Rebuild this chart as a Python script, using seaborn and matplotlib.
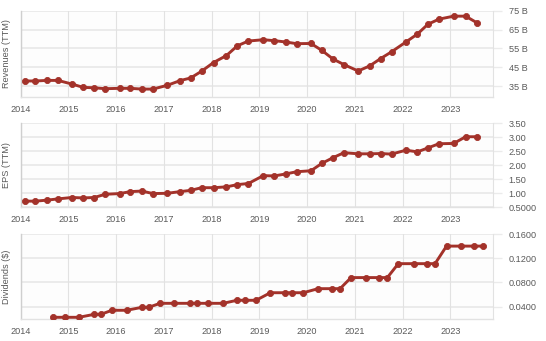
import matplotlib
matplotlib.use("Agg")
import matplotlib.pyplot as plt
import seaborn as sns
import pandas as pd

# Quarterly reporting dates (decimal years) for the trailing-twelve-month series
quarter_dates = [
    2014.08, 2014.31, 2014.55, 2014.78, 2015.07, 2015.31, 2015.54, 2015.77,
    2016.07, 2016.30, 2016.54, 2016.77, 2017.07, 2017.34, 2017.56, 2017.79,
    2018.04, 2018.31, 2018.54, 2018.77, 2019.08, 2019.31, 2019.55, 2019.78,
    2020.08, 2020.31, 2020.54, 2020.77, 2021.07, 2021.31, 2021.54, 2021.77,
    2022.07, 2022.31, 2022.53, 2022.76, 2023.07, 2023.32, 2023.55,
]
# Revenues, TTM, in billions
revenues_b = [
    37.7, 37.7, 38.0, 38.0, 36.1, 34.3, 34.1, 33.6,
    33.8, 33.8, 33.4, 33.4, 35.4, 37.9, 39.3, 42.9,
    47.5, 51.2, 56.4, 58.9, 59.6, 59.1, 58.4, 57.5,
    57.6, 53.9, 49.4, 46.4, 43.0, 45.7, 49.6, 53.2,
    58.4, 62.6, 67.8, 70.5, 72.1, 72.1, 68.7,
]
# Earnings per share, TTM
eps_ttm = [
    0.72, 0.72, 0.755, 0.80, 0.85, 0.835, 0.85, 0.965,
    0.99, 1.06, 1.08, 0.99, 1.00, 1.06, 1.105, 1.20,
    1.20, 1.23, 1.31, 1.35, 1.63, 1.62, 1.69, 1.77,
    1.805, 2.07, 2.27, 2.45, 2.41, 2.41, 2.42, 2.40,
    2.54, 2.48, 2.62, 2.77, 2.78, 3.02, 3.02,
]
# Dividend payment dates and amounts per share
dividend_dates = [
    2014.68, 2014.92, 2015.22, 2015.54, 2015.68, 2015.91, 2016.22, 2016.54,
    2016.68, 2016.92, 2017.22, 2017.55, 2017.70, 2017.93, 2018.24, 2018.53,
    2018.70, 2018.93, 2019.23, 2019.54, 2019.69, 2019.92, 2020.23, 2020.52,
    2020.69, 2020.92, 2021.23, 2021.51, 2021.68, 2021.91, 2022.23, 2022.51,
    2022.68, 2022.92, 2023.22, 2023.50, 2023.69,
]
dividends = [
    0.0224, 0.0224, 0.0224, 0.0273, 0.0273, 0.0340, 0.0340, 0.0389,
    0.0389, 0.0455, 0.0455, 0.0455, 0.0455, 0.0455, 0.0455, 0.0505,
    0.0505, 0.0505, 0.0630, 0.0630, 0.0630, 0.0630, 0.0697, 0.0697,
    0.0697, 0.0880, 0.0880, 0.0880, 0.0880, 0.1110, 0.1110, 0.1110,
    0.1110, 0.1400, 0.1400, 0.1400, 0.1400,
]

year_ticks = list(range(2014, 2024))
rev_ticks = [35, 45, 55, 65, 75]
rev_labels = ["35 B", "45 B", "55 B", "65 B", "75 B"]
eps_ticks = [0.5, 1.0, 1.5, 2.0, 2.5, 3.0, 3.5]
eps_labels = ["0.5000", "1.00", "1.50", "2.00", "2.50", "3.00", "3.50"]
div_ticks = [0.04, 0.08, 0.12, 0.16]
div_labels = ["0.0400", "0.0800", "0.1200", "0.1600"]

sns.set_theme(style="white")
plt.rcParams["font.family"] = ["Liberation Sans", "DejaVu Sans"]

LINE = "#a3322a"
GRID_H = "#ebebeb"
GRID_V = "#e2e2e2"
TEXT = "#5a5a5a"

W, H = 546, 341
fig = plt.figure(figsize=(W / 100, H / 100), dpi=100)
fig.patch.set_facecolor("white")


def make_axes(top_px, bottom_px, left_px=20.7, right_px=493.3):
    return fig.add_axes([left_px / W, 1 - bottom_px / H,
                         (right_px - left_px) / W, (bottom_px - top_px) / H])


panels = [
    (make_axes(10.7, 97.0), pd.DataFrame({"date": quarter_dates, "value": revenues_b}),
     (29.2, 75.0), rev_ticks, rev_labels, "Revenues (TTM)"),
    (make_axes(123.3, 207.3), pd.DataFrame({"date": quarter_dates, "value": eps_ttm}),
     (0.5, 3.5), eps_ticks, eps_labels, "EPS (TTM)"),
    (make_axes(234.0, 319.0), pd.DataFrame({"date": dividend_dates, "value": dividends}),
     (0.0196, 0.16), div_ticks, div_labels, "Dividends ($)"),
]

for ax, df, ylim, yt, yl, title in panels:
    ax.set_facecolor("#fdfdfd")
    sns.lineplot(data=df, x="date", y="value", ax=ax, color=LINE, linewidth=2.1,
                 marker="o", markersize=4.4, markeredgecolor=LINE,
                 markeredgewidth=0.6, zorder=3)
    ax.set_xlim(2014.0, 2023.9)
    ax.set_ylim(*ylim)
    ax.set_xticks(year_ticks)
    ax.set_xticklabels([str(y) for y in year_ticks])
    ax.set_yticks(yt)
    ax.set_yticklabels(yl)
    ax.yaxis.tick_right()
    ax.yaxis.set_label_position("left")
    ax.set_xlabel("")
    ax.set_ylabel(title, fontsize=6.6, color=TEXT)
    # anchor is the baseline side of the rotated label, which faces the axes
    ax.yaxis.set_label_coords(-0.021, 0.5)

    for y in yt:
        ax.axhline(y, color=GRID_H, linewidth=1.4, zorder=0)
    for x in year_ticks:
        ax.axvline(x, color=GRID_V, linewidth=0.8, zorder=0)

    ax.tick_params(axis="x", length=0, pad=5.5, labelsize=6.6, labelcolor=TEXT)
    ax.tick_params(axis="y", which="both", right=True, left=False, length=6.5,
                   width=1.0, color=GRID_H, pad=4.5, labelsize=6.6,
                   labelcolor=TEXT)

    ax.spines["left"].set_color("#cfcfcf")
    ax.spines["left"].set_linewidth(1.0)
    ax.spines["bottom"].set_color("#e2e2e2")
    ax.spines["bottom"].set_linewidth(1.0)
    ax.spines["right"].set_color("#e2e2e2")
    ax.spines["right"].set_linewidth(0.8)
    ax.spines["top"].set_visible(False)

fig.savefig("out.png", dpi=100, facecolor="white")
